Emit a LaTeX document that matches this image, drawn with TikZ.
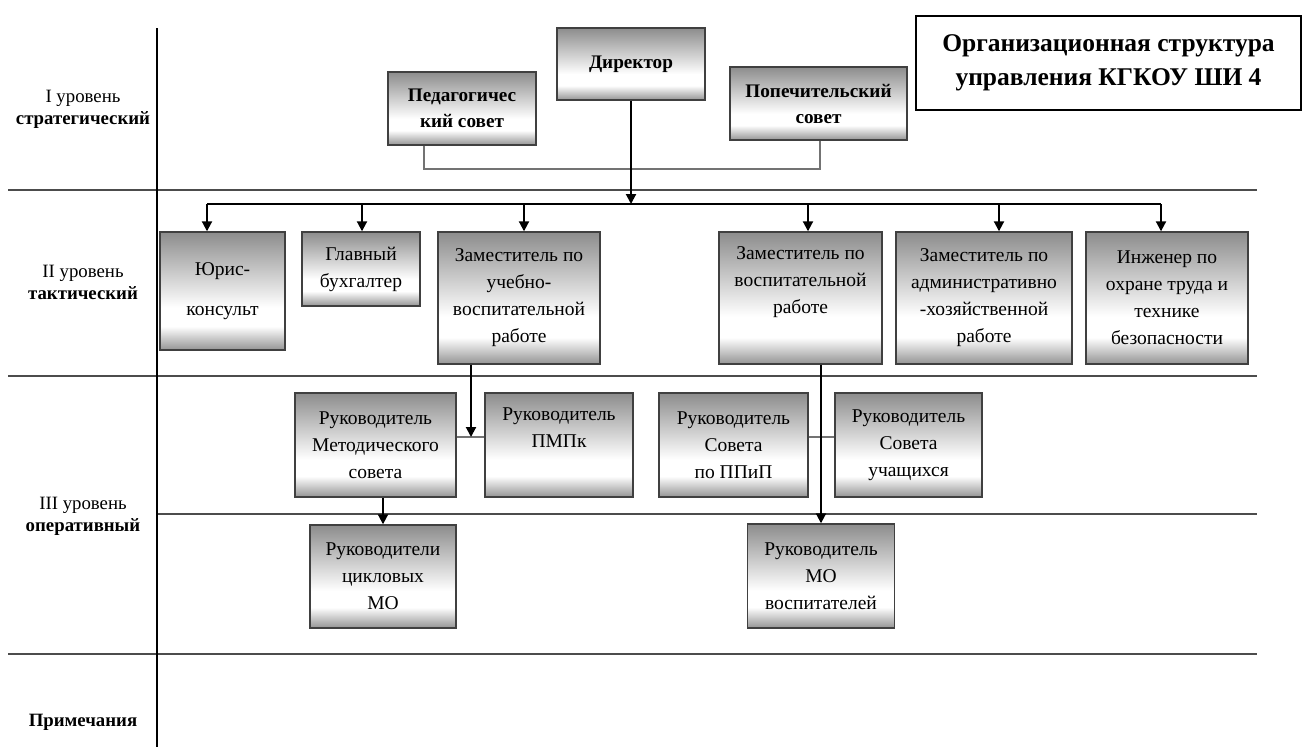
\documentclass[tikz,border=0pt]{standalone}
\usepackage{fontspec}
\setmainfont{Liberation Serif}
\usetikzlibrary{arrows.meta}
\pgfdeclareverticalshading{boxshade}{100bp}{color(0bp)=(black!42); color(25bp)=(black!42); color(35bp)=(white); color(43bp)=(white); color(75bp)=(black!45); color(100bp)=(black!45)}
\tikzset{
  orgbox/.style={draw=black!75, line width=1.4pt, shade, shading=boxshade, align=center, inner sep=0pt, font=\fontsize{19.5}{27}\selectfont},
  boldbox/.style={orgbox, font=\fontsize{19.2}{26}\selectfont\bfseries},
  levelline/.style={draw=black!70, line width=1.8pt},
  arr/.style={draw=black, line width=2pt, -{Triangle[length=10pt,width=10pt]}},
  plainline/.style={draw=black, line width=1.8pt},
  link/.style={draw=black!55, line width=1.6pt},
  lab/.style={align=center, font=\fontsize{18.8}{22}\selectfont},
}
\begin{document}
\begin{tikzpicture}[x=1pt,y=-1pt]
\useasboundingbox[fill=white] (0,0) rectangle (1303,747);
% level lines
\draw[levelline] (8,190) -- (1257,190);
\draw[levelline] (8,376) -- (1257,376);
\draw[levelline] (157,514) -- (1257,514);
\draw[levelline] (8,654) -- (1257,654);
\draw[line width=2.2pt] (157,28) -- (157,747);
% labels
\node[lab] (l1) at (83,109) {I уровень\\\textbf{стратегический}};
\node[lab] (l2) at (83,282.5) {II уровень\\\textbf{тактический}};
\node[lab] (l3) at (83,516) {III уровень\\\textbf{оперативный}};
\node[lab] (l4) at (83,722) {\textbf{Примечания}};
% title
\node[draw=black, line width=1.3pt, minimum width=385pt, minimum height=94pt, align=center, inner sep=0pt, font=\bfseries\fontsize{25.5}{34}\selectfont] (title) at (1108.5,63) {Организационная структура\\управления КГКОУ ШИ 4};
% level I
\node[boldbox, minimum width=148pt, minimum height=72pt] (dir) at (631,64) {Директор};
\node[boldbox, minimum width=148pt, minimum height=73pt] (ped) at (462,108.5) {Педагогичес\\кий совет};
\node[boldbox, minimum width=177pt, minimum height=73pt] (pop) at (818.5,103.5) {Попечительский\\совет};
% level II
\node[orgbox, minimum width=125pt, minimum height=118pt, font=\fontsize{19.5}{40}\selectfont] (yur) at (222.5,291) {Юрис-\\консульт};
\node[orgbox, minimum width=118pt, minimum height=74pt] (buh) at (361,269) {Главный\\бухгалтер};
\node[orgbox, minimum width=162pt, minimum height=132pt] (uvr) at (519,298) {Заместитель по\\учебно-\\воспитательной\\работе};
\node[orgbox, minimum width=163pt, minimum height=132pt] (vr) at (800.5,298) {Заместитель по\\воспитательной\\работе\\\strut};
\node[orgbox, minimum width=176pt, minimum height=132pt] (ahr) at (984,298) {Заместитель по\\административно\\-хозяйственной\\работе};
\node[orgbox, minimum width=162pt, minimum height=132pt] (ing) at (1167,298) {Инженер по\\охране труда и\\технике\\безопасности};
% level III
\node[orgbox, minimum width=161pt, minimum height=104pt] (met) at (375.5,445) {Руководитель\\Методического\\совета};
\node[orgbox, minimum width=148pt, minimum height=104pt] (pmpk) at (559,445) {Руководитель\\ПМПк\\\strut};
\node[orgbox, minimum width=149pt, minimum height=104pt] (ppip) at (733.5,445) {Руководитель\\Совета\\по ППиП};
\node[orgbox, minimum width=147pt, minimum height=104pt] (uch) at (908.5,445) {Руководитель\\Совета\\учащихся};
\node[orgbox, minimum width=146pt, minimum height=103pt] (cmo) at (383,576.5) {Руководители\\цикловых\\МО};
\node[orgbox, minimum width=147pt, minimum height=104pt] (mov) at (821,576) {Руководитель\\МО\\воспитателей};
% connectors level I
\coordinate (c1) at (424,169);
\coordinate (c2) at (820,169);
\draw[link] (ped.south -| c1) -- (c1) -- (c2) -- (pop.south -| c2);
\coordinate (d0) at (631,204);
\draw[arr] (dir.south) -- (d0);
\coordinate (a1) at (207,204);
\coordinate (a2) at (362,204);
\coordinate (a3) at (524,204);
\coordinate (a5) at (808,204);
\coordinate (a6) at (999,204);
\coordinate (a7) at (1161,204);
\draw[plainline] (a1) -- (a7);
\draw[arr] (a1) -- (a1 |- yur.north);
\draw[arr] (a2) -- (a2 |- buh.north);
\draw[arr] (a3) -- (a3 |- uvr.north);
\draw[arr] (a5) -- (a5 |- vr.north);
\draw[arr] (a6) -- (a6 |- ahr.north);
\draw[arr] (a7) -- (a7 |- ing.north);
% connectors level III
\draw[link] ([yshift=8pt]met.east) -- ([yshift=8pt]pmpk.west);
\draw[link] ([yshift=8pt]ppip.east) -- ([yshift=8pt]uch.west);
\coordinate (j1) at (471,437);
\draw[arr] (uvr.south -| j1) -- (j1);
\draw[arr] (met.south -| cmo.north) -- (cmo.north);
\draw[arr] (vr.south -| mov.north) -- (mov.north);
\end{tikzpicture}
\end{document}
